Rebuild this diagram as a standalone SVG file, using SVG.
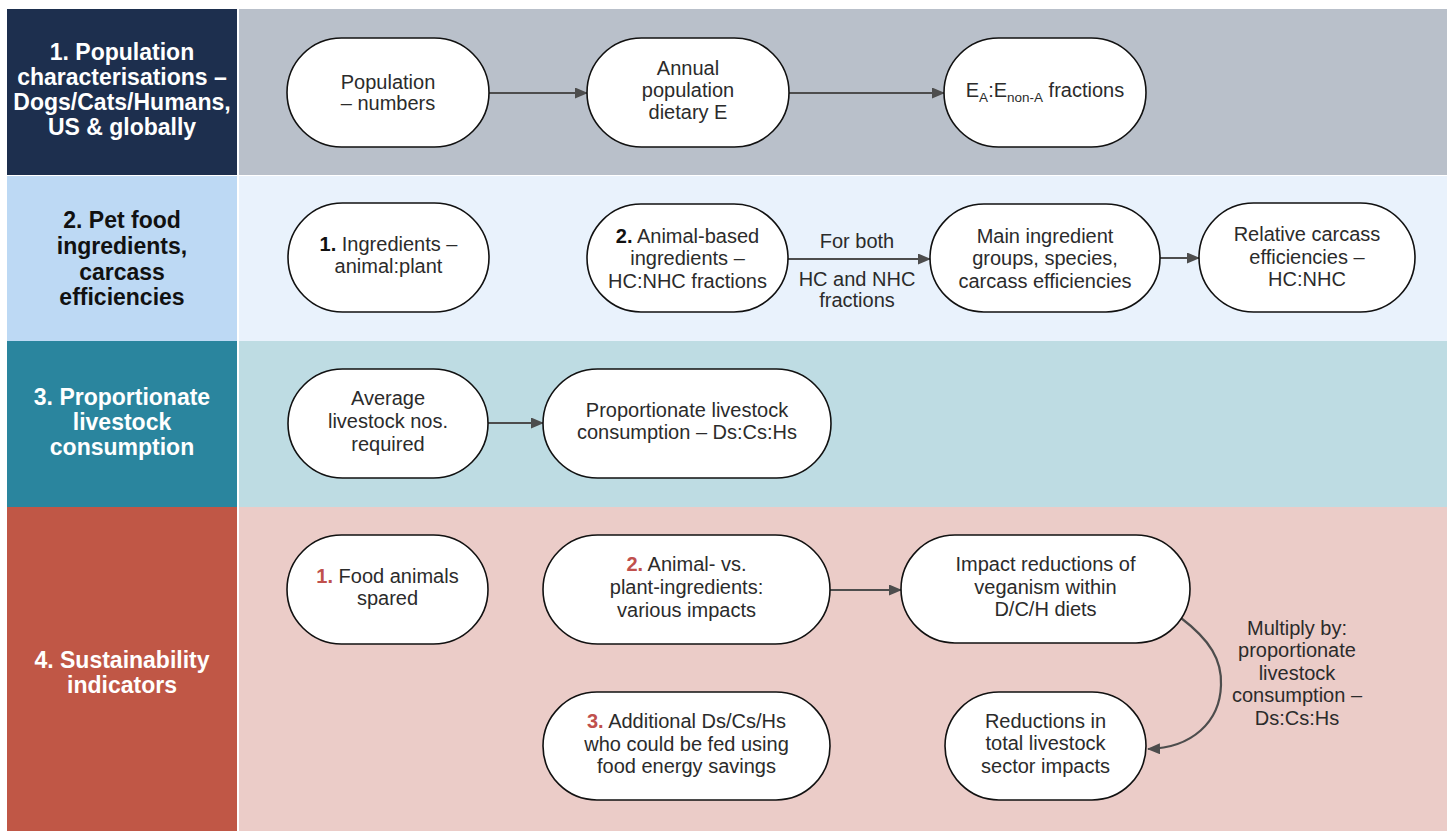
<svg xmlns="http://www.w3.org/2000/svg" width="1448" height="831" viewBox="0 0 1448 831">
<defs>
<marker id="ah" markerWidth="13" markerHeight="11" refX="12" refY="5.5" orient="auto" markerUnits="userSpaceOnUse">
<path d="M0,0 L13,5.5 L0,11 Z" fill="#4d4d4d"/>
</marker>
<style>
.node rect{fill:#ffffff;stroke:#111111;stroke-width:1.6}
.nt{font-family:"Liberation Sans",Arial,sans-serif;font-size:20px;fill:#2b2b2b;text-anchor:middle}
.lt{font-family:"Liberation Sans",Arial,sans-serif;font-size:23px;font-weight:bold;text-anchor:middle}
.b{font-weight:bold;fill:#111111}
.r{font-weight:bold;fill:#c0504d}
.sub{font-size:13.5px}
.con path{fill:none;stroke:#4d4d4d;stroke-width:2.2;marker-end:url(#ah)}
</style>
</defs>
<rect x="0" y="0" width="1448" height="831" fill="#ffffff"/>
<g id="bands">
<rect x="7" y="9" width="230" height="166" fill="#1d2f4e"/>
<rect x="239" y="9" width="1208" height="166" fill="#b9c0ca"/>
<rect x="7" y="176" width="230" height="165" fill="#bdd9f4"/>
<rect x="239" y="176" width="1208" height="165" fill="#e9f2fc"/>
<rect x="7" y="341" width="230" height="166" fill="#2a859e"/>
<rect x="239" y="341" width="1208" height="166" fill="#bedce3"/>
<rect x="7" y="507" width="230" height="324" fill="#c05746"/>
<rect x="239" y="507" width="1208" height="324" fill="#ebccc8"/>
</g>
<g id="row-labels">
<text class="lt" fill="#ffffff"><tspan x="122" y="60">1. Population</tspan><tspan x="122" y="85">characterisations –</tspan><tspan x="122" y="110">Dogs/Cats/Humans,</tspan><tspan x="122" y="135">US &amp; globally</tspan></text>
<text class="lt" fill="#111111"><tspan x="122" y="228">2. Pet food</tspan><tspan x="122" y="254">ingredients,</tspan><tspan x="122" y="280">carcass</tspan><tspan x="122" y="305">efficiencies</tspan></text>
<text class="lt" fill="#ffffff"><tspan x="122" y="405">3. Proportionate</tspan><tspan x="122" y="430">livestock</tspan><tspan x="122" y="455">consumption</tspan></text>
<text class="lt" fill="#ffffff"><tspan x="122" y="668">4. Sustainability</tspan><tspan x="122" y="693">indicators</tspan></text>
</g>
<g id="connectors" class="con">
<path d="M489,93 L587,93"/>
<path d="M789,93 L944,93"/>
<path d="M788,259 L930,259"/>
<path d="M1160,258 L1199,258"/>
<path d="M488,423 L543,423"/>
<path d="M830,590 L901,590"/>
<path d="M1181,618 C1210,640 1222,660 1221,685 C1220,722 1192,748 1148,749"/>
</g>
<g id="edge-labels">
<text class="nt"><tspan x="857" y="248">For both</tspan><tspan x="857" y="286">HC and NHC</tspan><tspan x="857" y="307">fractions</tspan></text>
<text class="nt"><tspan x="1297" y="635">Multiply by:</tspan><tspan x="1297" y="657">proportionate</tspan><tspan x="1297" y="680">livestock</tspan><tspan x="1297" y="702">consumption –</tspan><tspan x="1297" y="725">Ds:Cs:Hs</tspan></text>
</g>
<g id="n-population" class="node"><rect x="287" y="38" width="202" height="109" rx="54.5"/>
<text class="nt"><tspan x="388" y="89">Population</tspan><tspan x="388" y="110">– numbers</tspan></text></g>
<g id="n-annual" class="node"><rect x="587" y="38" width="202" height="109" rx="54.5"/>
<text class="nt"><tspan x="688" y="75">Annual</tspan><tspan x="688" y="97">population</tspan><tspan x="688" y="119">dietary E</tspan></text></g>
<g id="n-ea" class="node"><rect x="944" y="38" width="202" height="109" rx="54.5"/>
<text class="nt" x="1045" y="97">E<tspan class="sub" dy="5">A</tspan><tspan dy="-5">:E</tspan><tspan class="sub" dy="5">non-A</tspan><tspan dy="-5"> fractions</tspan></text></g>
<g id="n-ingredients" class="node"><rect x="288" y="203" width="201" height="109" rx="54.5"/>
<text class="nt"><tspan x="388.5" y="251"><tspan class="b">1.</tspan> Ingredients –</tspan><tspan x="388.5" y="273">animal:plant</tspan></text></g>
<g id="n-animal-based" class="node"><rect x="587" y="204" width="201" height="108" rx="54"/>
<text class="nt"><tspan x="687.5" y="243"><tspan class="b">2.</tspan> Animal-based</tspan><tspan x="687.5" y="265">ingredients –</tspan><tspan x="687.5" y="288">HC:NHC fractions</tspan></text></g>
<g id="n-main" class="node"><rect x="930" y="204" width="230" height="108" rx="54"/>
<text class="nt"><tspan x="1045" y="243">Main ingredient</tspan><tspan x="1045" y="265">groups, species,</tspan><tspan x="1045" y="288">carcass efficiencies</tspan></text></g>
<g id="n-relative" class="node"><rect x="1199" y="203" width="216" height="109" rx="54.5"/>
<text class="nt"><tspan x="1307" y="241">Relative carcass</tspan><tspan x="1307" y="264">efficiencies –</tspan><tspan x="1307" y="286">HC:NHC</tspan></text></g>
<g id="n-average" class="node"><rect x="288" y="369" width="200" height="109" rx="54.5"/>
<text class="nt"><tspan x="388" y="405">Average</tspan><tspan x="388" y="428">livestock nos.</tspan><tspan x="388" y="451">required</tspan></text></g>
<g id="n-proportionate" class="node"><rect x="543" y="369" width="288" height="109" rx="54.5"/>
<text class="nt"><tspan x="687" y="417">Proportionate livestock</tspan><tspan x="687" y="439">consumption – Ds:Cs:Hs</tspan></text></g>
<g id="n-food-animals" class="node"><rect x="287" y="535" width="201" height="109" rx="54.5"/>
<text class="nt"><tspan x="387.5" y="583"><tspan class="r">1.</tspan> Food animals</tspan><tspan x="387.5" y="605">spared</tspan></text></g>
<g id="n-animal-vs-plant" class="node"><rect x="543" y="535" width="287" height="109" rx="54.5"/>
<text class="nt"><tspan x="686.5" y="571"><tspan class="r">2.</tspan> Animal- vs.</tspan><tspan x="686.5" y="594">plant-ingredients:</tspan><tspan x="686.5" y="617">various impacts</tspan></text></g>
<g id="n-impact" class="node"><rect x="901" y="535" width="289" height="108" rx="54"/>
<text class="nt"><tspan x="1045.5" y="571">Impact reductions of</tspan><tspan x="1045.5" y="594">veganism within</tspan><tspan x="1045.5" y="616">D/C/H diets</tspan></text></g>
<g id="n-additional" class="node"><rect x="543" y="692" width="287" height="108" rx="54"/>
<text class="nt"><tspan x="686.5" y="728"><tspan class="r">3.</tspan> Additional Ds/Cs/Hs</tspan><tspan x="686.5" y="751">who could be fed using</tspan><tspan x="686.5" y="773">food energy savings</tspan></text></g>
<g id="n-reductions" class="node"><rect x="945" y="692" width="201" height="108" rx="54"/>
<text class="nt"><tspan x="1045.5" y="728">Reductions in</tspan><tspan x="1045.5" y="750">total livestock</tspan><tspan x="1045.5" y="773">sector impacts</tspan></text></g>
</svg>
